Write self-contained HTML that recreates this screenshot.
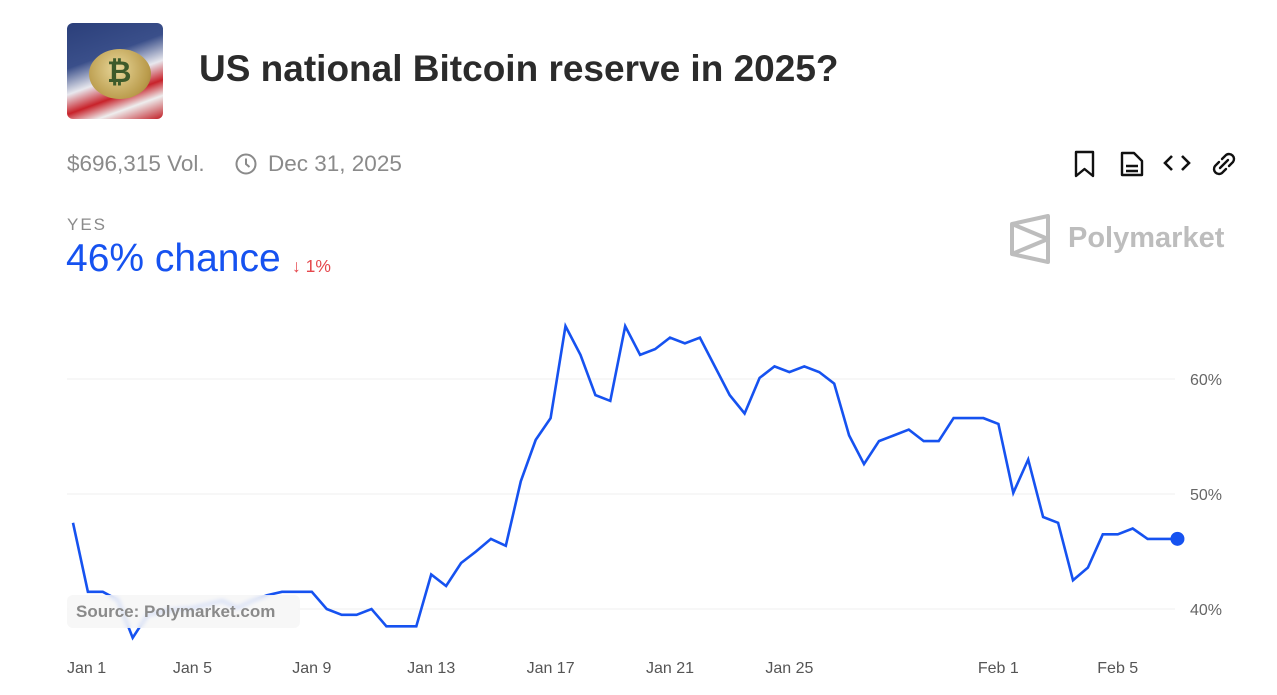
<!DOCTYPE html>
<html><head><meta charset="utf-8"><style>
body{margin:0;width:1277px;height:695px;background:#fff;font-family:"Liberation Sans",sans-serif;position:relative;overflow:hidden}
.abs{position:absolute}
</style></head><body>
<div class="abs" style="left:67px;top:23px;width:96px;height:96px;border-radius:6px;overflow:hidden;background:linear-gradient(160deg,#2b3f7a 0%,#3a4f8a 35%,#e8e8ee 55%,#c8222a 70%,#eee 82%,#c01d24 100%)">
 <div style="position:absolute;left:22px;top:26px;width:62px;height:50px;border-radius:50%;background:radial-gradient(circle at 45% 40%,#e8d79a,#b99a4a 70%,#8a7030);"></div>
 <div style="position:absolute;left:40px;top:33px;font:bold 30px 'Liberation Sans',sans-serif;color:#3d5a2a">₿</div>
</div>
<div class="abs" style="left:199px;top:48px;font-size:37px;font-weight:bold;color:#2b2b2b">US national Bitcoin reserve in 2025?</div>
<div class="abs" style="left:67px;top:151px;font-size:22.5px;color:#8a8a8a">$696,315 Vol.</div>
<svg class="abs" style="left:234px;top:152px" width="24" height="24" viewBox="0 0 24 24"><circle cx="12" cy="12" r="9.5" fill="none" stroke="#8a8a8a" stroke-width="2"/><path d="M12 6.5V12l3.5 3" fill="none" stroke="#8a8a8a" stroke-width="2"/></svg>
<div class="abs" style="left:268px;top:151px;font-size:22.5px;color:#8a8a8a">Dec 31, 2025</div>
<svg class="abs" style="left:1073px;top:150px" width="24" height="28" viewBox="0 0 24 28"><path d="M3 2h17v24l-8.5-7L3 26z" fill="none" stroke="#111" stroke-width="2.4" stroke-linejoin="round"/></svg>
<svg class="abs" style="left:1119px;top:150px" width="26" height="28" viewBox="0 0 26 28"><path d="M3 3h12l8 8v14H3z" fill="none" stroke="#111" stroke-width="2.4" stroke-linejoin="round"/><path d="M7 16h12M7 21h12" stroke="#111" stroke-width="2.4"/></svg>
<svg class="abs" style="left:1163px;top:152px" width="28" height="22" viewBox="0 0 28 22"><path d="M9 4L2 11l7 7M19 4l7 7-7 7" fill="none" stroke="#111" stroke-width="2.6"/></svg>
<svg class="abs" style="left:1210px;top:150px" width="28" height="28" viewBox="0 0 28 28"><path d="M12 9l4-4a5 5 0 017 7l-4 4M16 19l-4 4a5 5 0 01-7-7l4-4M10 18l8-8" fill="none" stroke="#111" stroke-width="2.4" stroke-linecap="round"/></svg>
<div class="abs" style="left:67px;top:215px;font-size:17px;letter-spacing:2px;color:#8a8a8a">YES</div>
<div class="abs" style="left:66px;top:237px;font-size:39px;color:#1652f0">46% chance</div>
<div class="abs" style="left:292px;top:256px;font-size:17.5px;color:#e5484d">↓ 1%</div>
<svg class="abs" style="left:1009px;top:214px" width="42" height="50" viewBox="0 0 42 50"><path d="M3 10L39 2v46L3 40z M3 10l36 15L3 40" fill="none" stroke="#bdbdbd" stroke-width="4" stroke-linejoin="round"/></svg>
<div class="abs" style="left:1068px;top:222px;font-size:29px;font-weight:bold;color:#bdbdbd">Polymarket</div>

<svg id="chart" class="abs" style="left:0;top:0" width="1277" height="695"></svg>
<div class="abs" style="left:67px;top:595px;width:233px;height:33px;border-radius:6px;background:rgba(245,245,245,0.82);backdrop-filter:blur(2px);font-size:17px;font-weight:bold;color:#8a8a8a;line-height:33px;text-indent:9px">Source: Polymarket.com</div>
<script>
const values=[47.5,41.5,41.5,40.8,37.5,39.5,39.8,40,40.1,40.4,40.7,40.1,40.7,41.2,41.5,41.5,41.5,40,39.5,39.5,40,38.5,38.5,38.5,43,42,44,45,46.1,45.5,51.1,54.7,56.6,64.6,62.1,58.6,58.1,
64.6,62.1,62.6,63.6,63.1,63.6,61.1,58.6,57.0,60.1,61.1,60.6,61.1,60.6,59.6,55.1,52.6,54.6,55.1,55.6,54.6,54.6,56.6,56.6,56.6,56.1,50.1,53.0,48.0,47.5,42.5,43.6,46.5,46.5,47.0,46.1,46.1,46.1];
const tickLabels=["Jan 1","Jan 5","Jan 9","Jan 13","Jan 17","Jan 21","Jan 25","Feb 1","Feb 5"];
const tickDays=[0,4,8,12,16,20,24,31,35];
const yTicks=[40,50,60];
const NS="http://www.w3.org/2000/svg";
const svg=document.getElementById('chart');
const x0=73,pxPerDay=29.85,stepDays=0.5;
const xs=d=>x0+d*pxPerDay;
const ys=v=>609-(v-40)*11.5;
function mk(t,a){const e=document.createElementNS(NS,t);for(const k in a)e.setAttribute(k,a[k]);svg.appendChild(e);return e;}
yTicks.forEach(v=>{
 const g=mk('line',{x1:67,x2:1175,y1:ys(v),y2:ys(v),stroke:'#efefef','stroke-width':1});
 
 
 const t=mk('text',{x:1190,y:ys(v)+6,'font-size':16,fill:'#666','font-family':'Liberation Sans, sans-serif'});
 t.textContent=v+'%';
 
 
});
tickLabels.forEach((l,i)=>{
 const first=i===0;
 const t=mk('text',{x:first?67:xs(tickDays[i]),y:673,'font-size':16,fill:'#555','text-anchor':first?'start':'middle','font-family':'Liberation Sans, sans-serif'});
 t.textContent=l;
 
 
});
const pts=values.map((v,i)=>xs(i*stepDays).toFixed(1)+','+ys(v).toFixed(1)).join(' ');
const line=mk('polyline',{points:pts,fill:'none',stroke:'#1652f0','stroke-width':2.6,'stroke-linejoin':'miter'});


const li=values.length-1;
const dot=mk('circle',{cx:xs(li*stepDays),cy:ys(values[li]),r:7,fill:'#1652f0'});


</script>
</body></html>
